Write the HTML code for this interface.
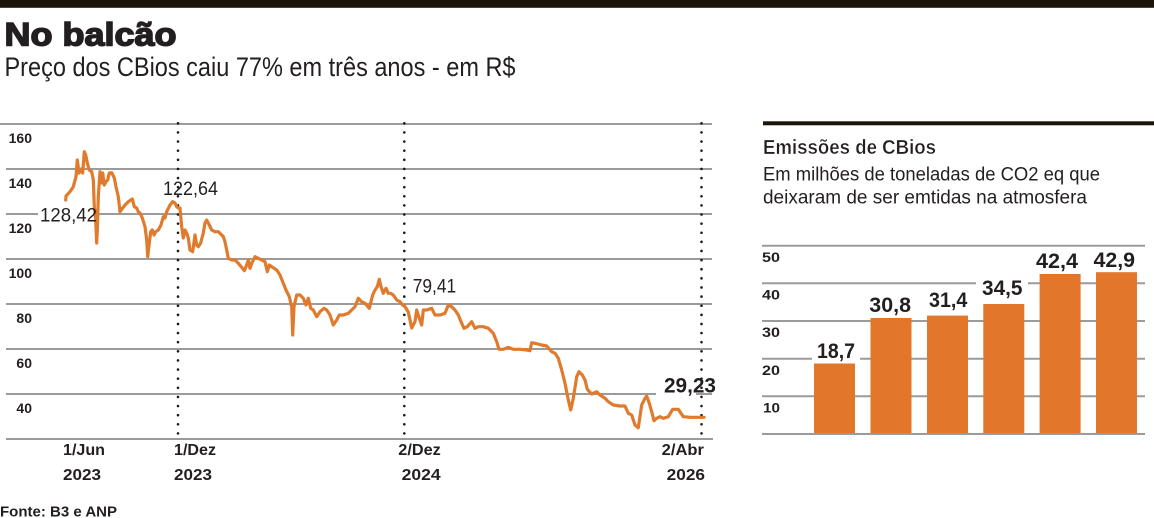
<!DOCTYPE html>
<html>
<head>
<meta charset="utf-8">
<style>
  html,body{margin:0;padding:0;background:#fff;}
  body{width:1154px;height:518px;overflow:hidden;}
  svg{display:block;}
  text{font-family:"Liberation Sans",sans-serif;fill:#231f20;}
</style>
</head>
<body>
<svg width="1154" height="518" viewBox="0 0 1154 518" xmlns="http://www.w3.org/2000/svg">
  <!-- top black bar -->
  <rect x="0" y="0" width="1154" height="7.8" fill="#1c130b"/>

  <!-- Title -->
  <text x="4.5" y="45.7" font-size="32" font-weight="bold" stroke="#231f20" stroke-width="1.5" textLength="172" lengthAdjust="spacingAndGlyphs">No balcão</text>
  <text x="4.5" y="76" font-size="27" textLength="511" lengthAdjust="spacingAndGlyphs" fill="#2a2627">Preço dos CBios caiu 77% em três anos - em R$</text>

  <!-- Line chart gridlines -->
  <g stroke="#9b9b9b" stroke-width="2">
    <line x1="0" y1="124" x2="712" y2="124"/>
    <line x1="6" y1="169" x2="712" y2="169"/>
    <line x1="6" y1="214" x2="712" y2="214"/>
    <line x1="6" y1="259" x2="712" y2="259"/>
    <line x1="6" y1="304" x2="712" y2="304"/>
    <line x1="6" y1="349" x2="712" y2="349"/>
    <line x1="6" y1="394" x2="712" y2="394"/>
    <line x1="6" y1="439" x2="713" y2="439"/>
  </g>

  <!-- y labels line chart -->
  <g font-size="14" font-weight="bold" text-anchor="end">
    <text x="32" y="143">160</text>
    <text x="32" y="188">140</text>
    <text x="32" y="233">120</text>
    <text x="32" y="278">100</text>
    <text x="32" y="323">80</text>
    <text x="32" y="368">60</text>
    <text x="32" y="413">40</text>
  </g>

  <!-- dotted verticals -->
  <g stroke="#1a1a1a" stroke-width="2.6" stroke-linecap="round" stroke-dasharray="0 9.12">
    <line x1="178" y1="123.3" x2="178" y2="437"/>
    <line x1="404.3" y1="123.3" x2="404.3" y2="437"/>
    <line x1="701.5" y1="123.3" x2="701.5" y2="437"/>
  </g>

  <!-- label backgrounds -->
  <rect x="38" y="205" width="61" height="19" fill="#fff"/>
  <rect x="656" y="376" width="40" height="20" fill="#fff"/>

  <!-- price line -->
  <polyline fill="none" stroke="#e07b2e" stroke-width="3.2" stroke-linejoin="round" stroke-linecap="round"
    points="65.7,200 66,196 70,191.7 73.3,186.7 76,176.7 77.3,160 79,173 81,169 82.7,173 84.3,151.7 85.7,155 87.3,163 89.3,170 91.7,171.7 93.3,180 94.3,206.7 95.7,220 96.7,243 97.3,230 98.3,196.7 100,171.7 101.7,183 102.7,173 104.3,185 106,181.7 107.7,180 109.3,173 111.7,172.7 114.3,178 116,186.7 118.3,196.7 120,211.7 122.7,208 125,205 128.3,201.7 132.3,199 134.3,206.7 136.7,208 138.3,211.7 140,213 142.3,218 145,226.7 146.7,240 147.7,256.7 149.3,243 150.7,231.7 152.3,230 154,235 155.7,231.7 158.3,230 161,225 163.3,216.7 165,218 166.7,211.7 170,205 172.7,201.7 175,203 176.7,206.7 178.3,208 180,208 181.7,226.7 183.3,238 185,230 186.7,233 188.3,238 190,250 192.7,251.7 195,235 196.7,245 198.3,246.7 200.7,243 203.3,233 205,223 206.7,220 208.3,223 211.7,230 215,231.7 218.3,231.7 221.7,235 223.3,236.7 225,241.7 226.7,250 228.3,258.3 231.7,260 235,260 238.3,263.3 241.7,267.3 244.3,270.7 246.7,265 248.3,260 250,268.3 251.7,263.3 255,256.7 258.3,258.3 261.7,260 265,261.7 267.3,271.7 269.3,265 271.7,266.7 276.7,270 280,275 283.3,283.3 286,290 289.3,296.7 291.7,306.7 292.7,335 294,306.7 296.7,295 300,295 303.3,298.3 306,305 308.3,298.3 310.7,308.3 313.3,310 316.7,316.7 320,311.7 324,308.3 326.7,310 330,315 333.3,325 336.7,320 339.3,315 343.3,315 348.3,313.3 351.7,310 355,306.7 358.3,298.3 361.7,301.7 365,303.3 369.3,308.3 372.7,295 375,290 377.3,286.7 379.3,279.3 381,286.7 383.3,293.3 386,288.3 388.3,293.3 390.7,293.3 393.3,295 396.7,300 400,301.7 402.7,305 405,306.7 408.3,312 411.7,328 415,321.7 416.7,310 419.3,318.3 421.7,325 423.3,310 426.7,310 431.7,308.3 435,315 440,315 445,313.3 448.3,305 451.7,306.7 455,310 458.3,315 461.7,323.3 464,328.3 467.3,326.7 471.7,321.7 475,328.3 478.3,326.7 483.3,326.7 488.3,328.3 493.3,333.3 496.7,341.7 499,349.3 503.3,349.3 508.3,347.3 513.3,349.3 520,349.3 526.7,350 530,350.7 531.7,342.7 535,343.3 541.7,345 546.7,346 551.7,351.7 555,353.3 558.3,358.3 561.7,370 565,383.3 568.3,400 570.7,410 573.3,398.3 576.7,376.7 579,371.7 582.3,375 585,380 587.3,389.3 591.7,394 596.7,391.7 600,395 605,398.3 608.3,401.7 613.3,405 620,406 625,406 628.3,413.3 631.7,415 635,425 638.3,427.7 641.7,405 645,398.3 646.7,396 649.3,403.3 651.7,411.7 654,420.7 656.7,418.3 660,416.7 663.3,418.3 668.3,416.7 672.7,409.3 678.3,409.3 683.3,416.7 690,417.3 698.3,417.3 704,417.3"/>

  <!-- annotations -->
  <g font-size="19">
    <text x="40" y="221.7" textLength="57" lengthAdjust="spacingAndGlyphs">128,42</text>
    <text x="163" y="195" textLength="55" lengthAdjust="spacingAndGlyphs">122,64</text>
    <text x="412.7" y="292.3" textLength="43.5" lengthAdjust="spacingAndGlyphs">79,41</text>
  </g>
  <text x="664" y="392.7" font-size="21" font-weight="bold" textLength="52" lengthAdjust="spacingAndGlyphs">29,23</text>

  <!-- x labels -->
  <g font-size="16" font-weight="bold">
    <text x="63" y="455" textLength="42" lengthAdjust="spacingAndGlyphs">1/Jun</text>
    <text x="63" y="480" textLength="38" lengthAdjust="spacingAndGlyphs">2023</text>
    <text x="174" y="455" textLength="42" lengthAdjust="spacingAndGlyphs">1/Dez</text>
    <text x="174" y="480" textLength="38" lengthAdjust="spacingAndGlyphs">2023</text>
    <text x="398.3" y="455" textLength="42.5" lengthAdjust="spacingAndGlyphs">2/Dez</text>
    <text x="401.7" y="480" textLength="39" lengthAdjust="spacingAndGlyphs">2024</text>
    <text x="661.7" y="455" textLength="42.3" lengthAdjust="spacingAndGlyphs">2/Abr</text>
    <text x="666.7" y="480" textLength="38.3" lengthAdjust="spacingAndGlyphs">2026</text>
  </g>

  <!-- source -->
  <text x="0" y="516.5" font-size="15" font-weight="bold" textLength="117" lengthAdjust="spacingAndGlyphs">Fonte: B3 e ANP</text>

  <!-- RIGHT PANEL -->
  <rect x="763" y="121.3" width="391" height="4" fill="#1c130b"/>
  <text x="763" y="154" font-size="20" font-weight="bold" textLength="173" lengthAdjust="spacingAndGlyphs" stroke="#fff" stroke-width="0.35">Emissões de CBios</text>
  <text x="763" y="180.7" font-size="19" textLength="337" lengthAdjust="spacingAndGlyphs" fill="#2a2627">Em milhões de toneladas de CO2 eq que</text>
  <text x="763" y="203.3" font-size="19" textLength="324" lengthAdjust="spacingAndGlyphs" fill="#2a2627">deixaram de ser emtidas na atmosfera</text>

  <!-- bar gridlines -->
  <g stroke="#9b9b9b" stroke-width="2">
    <line x1="762" y1="245.7" x2="1145" y2="245.7"/>
    <line x1="762" y1="283.3" x2="1145" y2="283.3"/>
    <line x1="762" y1="321" x2="1145" y2="321"/>
    <line x1="762" y1="358.7" x2="1145" y2="358.7"/>
    <line x1="762" y1="396.3" x2="1145" y2="396.3"/>
    <line x1="762" y1="434" x2="1145" y2="434"/>
  </g>

  <g font-size="14" font-weight="bold">
    <text x="762" y="262" textLength="18" lengthAdjust="spacingAndGlyphs">50</text>
    <text x="762" y="299.5" textLength="18" lengthAdjust="spacingAndGlyphs">40</text>
    <text x="762" y="337.2" textLength="18" lengthAdjust="spacingAndGlyphs">30</text>
    <text x="762" y="374.8" textLength="18" lengthAdjust="spacingAndGlyphs">20</text>
    <text x="763" y="412.5" textLength="17" lengthAdjust="spacingAndGlyphs">10</text>
  </g>

  <!-- label backgrounds on bars -->
  <rect x="812" y="341" width="48" height="20" fill="#fff"/>
  <rect x="976" y="278" width="52" height="19" fill="#fff"/>

  <!-- bars -->
  <g fill="#e2762b">
    <rect x="814" y="363.5" width="41" height="70.5"/>
    <rect x="870.5" y="318" width="41" height="116"/>
    <rect x="927" y="315.6" width="41" height="118.4"/>
    <rect x="983.3" y="304" width="41" height="130"/>
    <rect x="1039.6" y="274" width="41" height="160"/>
    <rect x="1096" y="272.2" width="41" height="161.8"/>
  </g>
  <line x1="762" y1="434" x2="1145" y2="434" stroke="#9b9b9b" stroke-width="2"/>

  <g font-size="21" font-weight="bold">
    <text x="817" y="358" textLength="38" lengthAdjust="spacingAndGlyphs">18,7</text>
    <text x="869.3" y="312" textLength="41.7" lengthAdjust="spacingAndGlyphs">30,8</text>
    <text x="929" y="307" textLength="38.3" lengthAdjust="spacingAndGlyphs">31,4</text>
    <text x="982" y="295" textLength="40.5" lengthAdjust="spacingAndGlyphs">34,5</text>
    <text x="1036" y="268" textLength="42" lengthAdjust="spacingAndGlyphs">42,4</text>
    <text x="1093.5" y="267" textLength="41.5" lengthAdjust="spacingAndGlyphs">42,9</text>
  </g>
</svg>
</body>
</html>
